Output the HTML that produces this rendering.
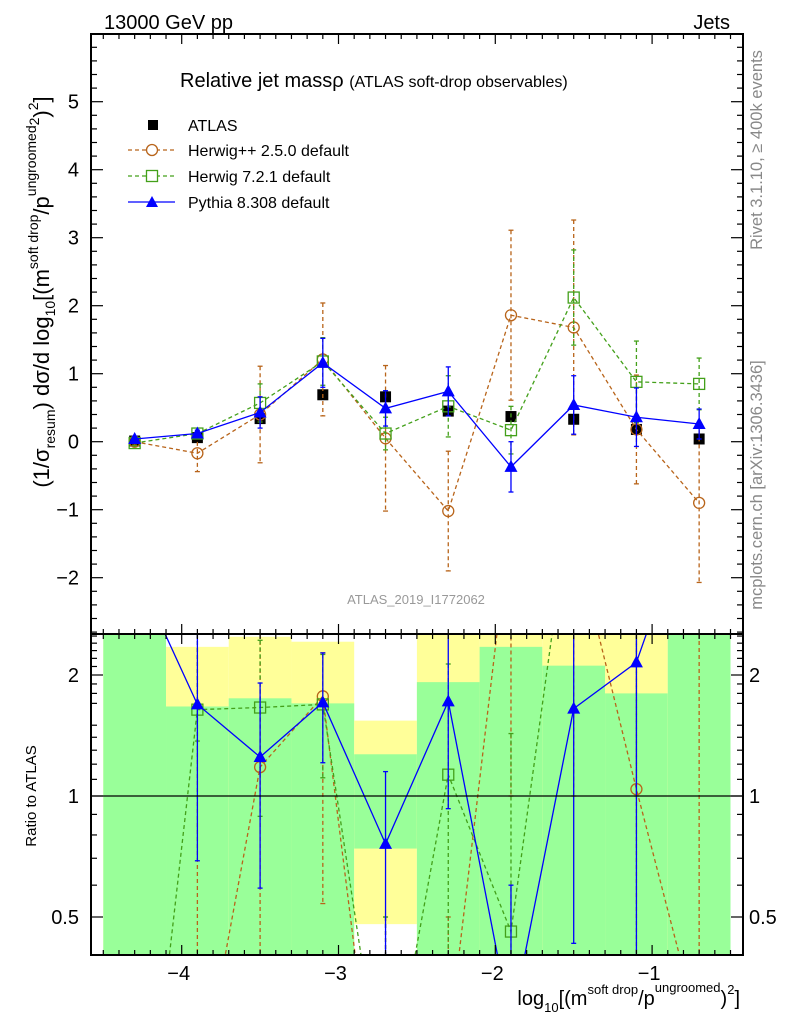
<!DOCTYPE html>
<html><head><meta charset="utf-8"><style>
html,body{margin:0;padding:0;background:#fff;overflow:hidden;width:786px;height:1024px;}
svg{display:block;font-family:"Liberation Sans",sans-serif;}
</style></head><body>
<svg id="chart" width="786" height="1024" viewBox="0 0 786 1024">
<defs>
<clipPath id="clipMain"><rect x="91" y="34" width="652" height="600"/></clipPath>
<clipPath id="clipRatio"><rect x="91" y="634" width="652" height="321"/></clipPath>
</defs>
<rect x="0" y="0" width="786" height="1024" fill="#fff"/>
<g id="ratioBands" clip-path="url(#clipRatio)"></g>
<g id="mainMarks" clip-path="url(#clipMain)"></g>
<g id="ratioMarks" clip-path="url(#clipRatio)"></g>
<line x1="91" y1="796" x2="743" y2="796" stroke="#000" stroke-width="1.2"/>
<g id="axes"></g>
<rect x="91" y="34" width="652" height="600" fill="none" stroke="#000" stroke-width="2"/>
<rect x="91" y="634" width="652" height="321" fill="none" stroke="#000" stroke-width="2"/>

<text x="104" y="29" font-size="20">13000 GeV pp</text>
<text x="730" y="29" font-size="20" text-anchor="end">Jets</text>
<text x="180" y="87" font-size="20">Relative jet massρ <tspan font-size="16">(ATLAS soft-drop observables)</tspan></text>
<text x="416" y="604" font-size="13" fill="#999" text-anchor="middle">ATLAS_2019_I1772062</text>

<g>
 <g>
  <rect x="148" y="120" width="10" height="10" fill="#000"/>
  <text x="188" y="131" font-size="16">ATLAS</text>
 </g>
 <g>
  <line x1="128" y1="150" x2="175" y2="150" stroke="#b8641a" stroke-width="1.2" stroke-dasharray="4,3"/>
  <circle cx="152" cy="150" r="5.5" fill="#fff" stroke="#b8641a" stroke-width="1.3"/>
  <text x="188" y="156" font-size="16">Herwig++ 2.5.0 default</text>
 </g>
 <g>
  <line x1="128" y1="176" x2="175" y2="176" stroke="#43a01a" stroke-width="1.2" stroke-dasharray="4,3"/>
  <rect x="146.5" y="170.5" width="11" height="11" fill="#fff" stroke="#43a01a" stroke-width="1.3"/>
  <text x="188" y="182" font-size="16">Herwig 7.2.1 default</text>
 </g>
 <g>
  <line x1="128" y1="202" x2="175" y2="202" stroke="#0000ff" stroke-width="1.3"/>
  <polygon points="152,196 158,207 146,207" fill="#0000ff"/>
  <text x="188" y="208" font-size="16">Pythia 8.308 default</text>
 </g>
</g>

<text transform="translate(49,292) rotate(-90)" font-size="22" text-anchor="middle">(1/σ<tspan font-size="14" dy="6">resum</tspan><tspan dy="-6">) dσ/d log</tspan><tspan font-size="14" dy="6">10</tspan><tspan dy="-6">[(m</tspan><tspan font-size="14" dy="-11">soft drop</tspan><tspan dy="11">/p</tspan><tspan font-size="14" dy="-13">ungroomed</tspan><tspan font-size="14" dy="3">2</tspan><tspan dy="10">)</tspan><tspan font-size="14" dy="-11">2</tspan><tspan dy="11">]</tspan></text>
<text transform="translate(36,796) rotate(-90)" font-size="15" text-anchor="middle">Ratio to ATLAS</text>
<text x="740" y="1005" font-size="20" text-anchor="end">log<tspan font-size="13" dy="7">10</tspan><tspan dy="-7">[(m</tspan><tspan font-size="13" dy="-11">soft drop</tspan><tspan dy="11">/p</tspan><tspan font-size="13" dy="-13">ungroomed</tspan><tspan dy="13">)</tspan><tspan font-size="13" dy="-11">2</tspan><tspan dy="11">]</tspan></text>
<text transform="translate(762,150) rotate(-90)" font-size="16.5" fill="#888" text-anchor="middle">Rivet 3.1.10, ≥ 400k events</text>
<text transform="translate(762,485) rotate(-90)" font-size="16.5" fill="#888" text-anchor="middle">mcplots.cern.ch [arXiv:1306.3436]</text>
</svg>
<script>
const xCenters=[-4.3,-3.9,-3.5,-3.1,-2.7,-2.3,-1.9,-1.5,-1.1,-0.7];
const binEdges=[-4.5,-4.1,-3.7,-3.3,-2.9,-2.5,-2.1,-1.7,-1.3,-0.9,-0.5];
const atlasVals=[0.01,0.06,0.34,0.69,0.66,0.45,0.37,0.33,0.18,0.04];
const atlasErr=[0.02,0.03,0.03,0.04,0.04,0.04,0.03,0.03,0.03,0.02];
const herwigppVals=[0.0,-0.17,0.40,1.21,0.05,-1.02,1.86,1.68,0.18,-0.90];
const herwigppErr=[0.05,0.27,0.71,0.83,1.07,0.88,1.25,1.58,0.80,1.17];
const herwig7Vals=[-0.02,0.12,0.57,1.18,0.12,0.52,0.17,2.12,0.88,0.85];
const herwig7Err=[0.04,0.05,0.28,0.35,0.24,0.45,0.35,0.70,0.60,0.38];
const pythiaVals=[0.04,0.12,0.43,1.16,0.49,0.74,-0.37,0.54,0.36,0.26];
const pythiaErr=[0.04,0.05,0.23,0.36,0.26,0.36,0.37,0.43,0.43,0.22];
// ratio panel
const greenHi=[5,1.67,1.75,1.70,1.27,1.92,2.35,2.11,1.80,5];
const greenLo=[0.1,0.1,0.1,0.1,0.74,0.1,0.1,0.1,0.1,0.1];
const yellowHi=[5,2.35,2.49,2.42,1.54,5,5,5,5,5];
const yellowLo=[0.1,0.1,0.1,0.1,0.48,0.1,0.1,0.1,0.1,0.1];
const pythiaRatio=[3.7,1.69,1.25,1.71,0.76,1.72,0.27,1.65,2.15,6];
const pythiaRatioHi=[6,5,1.91,2.27,1.15,5,0.6,5,5,9];
const pythiaRatioLo=[3,0.69,0.59,1.21,0.1,0.93,0.1,0.43,0.1,3];
const herwig7Ratio=[0.07,1.64,1.66,1.69,0.16,1.13,0.46,6.2,4.9,17];
const herwig7RatioHi=[0.1,5,2.44,2.25,0.5,2.13,1.43,9,9,25];
const herwig7RatioLo=[0.05,1.37,0.89,1.11,0.05,0.1,0.1,3,1,9];
const herwigppRatio=[null,0.17,1.18,1.77,0.10,0.24,5.0,4.5,1.04,0.26];
const herwigppRatioHi=[null,5,5,2.27,0.5,0.5,9,9,5,5];
const herwigppRatioLo=[null,0.05,0.1,0.54,0.05,0.05,1,1,0.1,0.05];
const xTicks=[-4,-3,-2,-1];
const yTicks=[-2,-1,0,1,2,3,4,5];
const rTicks=[0.5,1,2];

const NS="http://www.w3.org/2000/svg";
function X(v){return 181.7+(v+4)*156.8;}
function Y(v){return 441.7-68*v;}
function R(r){return 796-121*Math.log2(r);}
function mk(tag,attrs,parent){const e=document.createElementNS(NS,tag);for(const k in attrs)e.setAttribute(k,attrs[k]);parent.appendChild(e);return e;}
const bandsG=document.getElementById('ratioBands');
const mainG=document.getElementById('mainMarks');
const ratioG=document.getElementById('ratioMarks');
const axesG=document.getElementById('axes');

for(let i=0;i<xCenters.length;i++){
  const x0=X(binEdges[i]),x1=X(binEdges[i+1]);
  const y=mk('rect',{x:x0,y:R(yellowHi[i]),width:x1-x0,height:R(yellowLo[i])-R(yellowHi[i]),fill:'#ffff99'},bandsG);
  
  
  const g=mk('rect',{x:x0,y:R(greenHi[i]),width:x1-x0,height:R(greenLo[i])-R(greenHi[i]),fill:'#99ff99'},bandsG);
  
  
}

function series(parent,vals,errHi,errLo,ymap,color,dash,marker,name){
  const g=mk('g',{},parent);
  
  
  let pts=[];
  for(let i=0;i<xCenters.length;i++){
    if(vals[i]===null)continue;
    const x=X(xCenters[i]);
    const e=mk('line',{x1:x,x2:x,y1:ymap(errHi(i)),y2:ymap(errLo(i)),stroke:color,'stroke-width':1.3,'stroke-dasharray':dash},g);
    
    
    for(const yy of [ymap(errHi(i)),ymap(errLo(i))]){mk('line',{x1:x-2.5,x2:x+2.5,y1:yy,y2:yy,stroke:color,'stroke-width':1.3},g);}
    pts.push(x+','+ymap(vals[i]));
  }
  if(marker!=='sq'){
    const l=mk('polyline',{points:pts.join(' '),fill:'none',stroke:color,'stroke-width':1.3,'stroke-dasharray':dash},g);
    
    
  }
  for(let i=0;i<xCenters.length;i++){
    if(vals[i]===null)continue;
    const x=X(xCenters[i]),y=ymap(vals[i]);let m;
    if(marker==='sq') m=mk('rect',{x:x-5.5,y:y-5.5,width:11,height:11,fill:'#000'},g);
    else if(marker==='circ') m=mk('circle',{cx:x,cy:y,r:5.5,fill:'none',stroke:color,'stroke-width':1.3},g);
    else if(marker==='osq') m=mk('rect',{x:x-5.5,y:y-5.5,width:11,height:11,fill:'none',stroke:color,'stroke-width':1.3},g);
    else m=mk('polygon',{points:(x)+','+(y-7)+' '+(x+6.5)+','+(y+5)+' '+(x-6.5)+','+(y+5),fill:color},g);
    
    
  }
}
const BR='#b8641a',GR='#43a01a',BL='#0000ff';
series(mainG,atlasVals,i=>atlasVals[i]+atlasErr[i],i=>atlasVals[i]-atlasErr[i],Y,'#000','none','sq','atlas-data');
series(mainG,herwigppVals,i=>herwigppVals[i]+herwigppErr[i],i=>herwigppVals[i]-herwigppErr[i],Y,BR,'4,3','circ','herwigpp');
series(mainG,herwig7Vals,i=>herwig7Vals[i]+herwig7Err[i],i=>herwig7Vals[i]-herwig7Err[i],Y,GR,'4,3','osq','herwig7');
series(mainG,pythiaVals,i=>pythiaVals[i]+pythiaErr[i],i=>pythiaVals[i]-pythiaErr[i],Y,BL,'none','tri','pythia');
series(ratioG,herwigppRatio,i=>herwigppRatioHi[i],i=>herwigppRatioLo[i],R,BR,'4,3','circ','herwigpp-ratio');
series(ratioG,herwig7Ratio,i=>herwig7RatioHi[i],i=>herwig7RatioLo[i],R,GR,'4,3','osq','herwig7-ratio');
series(ratioG,pythiaRatio,i=>pythiaRatioHi[i],i=>pythiaRatioLo[i],R,BL,'none','tri','pythia-ratio');

function tl(x1,y1,x2,y2){mk('line',{x1,y1,x2,y2,stroke:'#000','stroke-width':1.2},axesG);}
for(let k=-45;k<=-5;k++){
  const v=k/10,x=X(v);if(x<92||x>742)continue;
  const major=(k%10===0),len=major?10:5;
  for(const [yb,yt] of [[634,34],[955,634]]){tl(x,yb,x,yb-len);tl(x,yt,x,yt+len);}
}
for(let k=-14;k<=29;k++){
  const v=k/5,y=Y(v);if(y<35||y>633)continue;
  const len=(k%5===0)?12:6;
  tl(91,y,91+len,y);tl(743,y,743-len,y);
}
for(const r of [0.5,0.6,0.7,0.8,0.9,1,1.1,1.2,1.3,1.4,1.5,1.7,1.8,1.9,2,2.1,2.2,2.3,2.4,2.5]){
  const y=R(r);if(y<635||y>954)continue;
  const len=rTicks.includes(r)?12:6;
  tl(91,y,91+len,y);tl(743,y,743-len,y);
}
for(const v of xTicks){
  const t=mk('text',{x:X(v)-3,y:980,'font-size':20,'text-anchor':'middle'},axesG);
  t.textContent='\u2212'+Math.abs(v);
  
  
}
for(const v of yTicks){
  const t=mk('text',{x:79,y:Y(v)+7,'font-size':20,'text-anchor':'end'},axesG);
  t.textContent=(v<0?'\u2212':'')+Math.abs(v);
  
  
}
for(const r of rTicks){
  const t1=mk('text',{x:79,y:R(r)+7,'font-size':20,'text-anchor':'end'},axesG);
  t1.textContent=String(r);
  
  
  const t2=mk('text',{x:749,y:R(r)+7,'font-size':20},axesG);
  t2.textContent=String(r);
  
  
}
</script>
</body></html>
